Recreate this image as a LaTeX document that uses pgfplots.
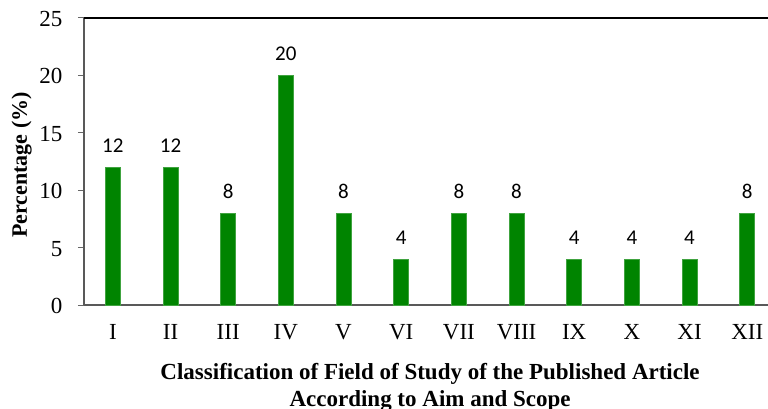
\documentclass[border=0pt]{standalone}
\usepackage{fontspec}
\setmainfont{Liberation Serif}
\newfontfamily\calibri{Carlito}
\usepackage{pgfplots}
\pgfplotsset{compat=1.18}
\definecolor{bargreen}{RGB}{0,132,0}
\begin{document}
\begin{tikzpicture}
\begin{axis}[
  scale only axis, width=684bp, height=287bp,
  xmin=-0.5, xmax=11.36, ymin=0, ymax=25,
  axis lines*=left,
  axis line style={draw=black!65, line width=1.6bp},
  ytick={0,5,...,25},
  xtick={0,...,11},
  xticklabels={I,II,III,IV,V,VI,VII,VIII,IX,X,XI,XII},
  x tick style={draw=none},
  y tick style={draw=black!60, line width=1bp},
  tick align=outside,
  major tick length=6bp,
  /pgf/number format/assume math mode=true,
  xticklabel style={font=\fontsize{23bp}{26bp}\selectfont, yshift=-10bp},
  yticklabel style={font=\fontsize{23bp}{27bp}\selectfont, xshift=-12bp, yshift=-1bp},
  xlabel={Classification of Field of Study of the Published Article\\According to Aim and Scope},
  xlabel style={align=center, font=\bfseries\fontsize{23bp}{27bp}\selectfont,
    at={(axis description cs:0.506,0)}, anchor=north, yshift=-55bp},
  ylabel={Percentage (\%)},
  ylabel style={font=\bfseries\fontsize{22bp}{26bp}\selectfont,
    at={(axis description cs:-0.091,0.488)}, anchor=center},
  clip=false,
]
\addplot[ybar, bar width=15bp, fill=bargreen, draw=bargreen!75!white, line width=0.6bp,
  nodes near coords,
  nodes near coords style={font=\calibri\fontsize{21bp}{24bp}\selectfont, yshift=11bp}]
  coordinates {(0,12) (1,12) (2,8) (3,20) (4,8) (5,4) (6,8) (7,8) (8,4) (9,4) (10,4) (11,8)};
\draw[line width=2.2bp, black] (rel axis cs:0,1) -- (rel axis cs:1,1);
\end{axis}
\pgfresetboundingbox
\path[use as bounding box] (-84bp,-104bp) rectangle (684bp,305bp);
\end{tikzpicture}
\end{document}
